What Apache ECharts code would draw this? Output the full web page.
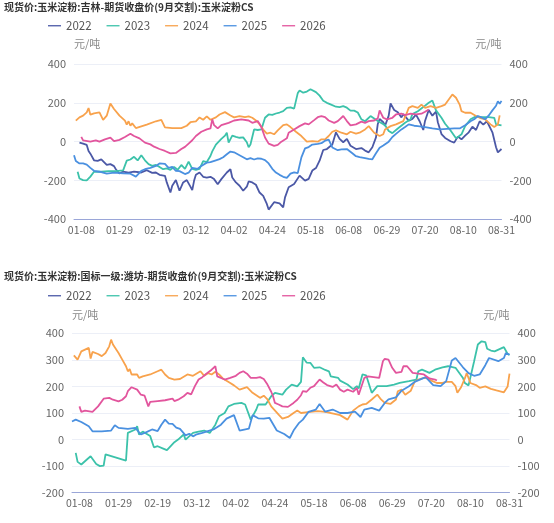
<!DOCTYPE html>
<html><head><meta charset="utf-8">
<script src="https://cdn.jsdelivr.net/npm/echarts@6/dist/echarts.min.js"></script>
<style>html,body{margin:0;padding:0;background:#fff}#c{width:554px;height:523px}</style>
</head><body><div id="c"></div>
<script>
// categories: union of trading dates (mm-dd)
const monthDays = [31,28,31,30,31,30,31,31];
const skipDates = ['01-01','01-02','01-03','04-04','05-01','05-02','05-03'];
const categories = [];
for (let m = 1; m <= 8; m++) {
  for (let d = 1; d <= monthDays[m-1]; d++) {
    const s = String(m).padStart(2,'0') + '-' + String(d).padStart(2,'0');
    if (skipDates.indexOf(s) < 0) categories.push(s);
  }
}
const seriesNames = ['2022','2023','2024','2025','2026'];
const colors = ['#4b58a6','#3cc2aa','#f8a24c','#4a90e0','#e2559d'];
const title1 = '现货价:玉米淀粉:吉林-期货收盘价(9月交割):玉米淀粉CS';
const title2 = '现货价:玉米淀粉:国标一级:潍坊-期货收盘价(9月交割):玉米淀粉CS';
const unit = '元/吨';

// ---------- chart 1: 吉林 ----------
const jl2022 = [['01-07',-5],['01-09',-10],['01-11',-17],['01-12',-48],['01-13',-62],['01-15',-96],['01-17',-99],['01-19',-91],['01-20',-99],['01-22',-120],['01-24',-116],['01-26',-126],['01-27',-142],['01-29',-164],['01-31',-154],['02-03',-159],['02-06',-154],['02-10',-159],['02-13',-147],['02-16',-161],['02-18',-159],['02-20',-171],['02-23',-176],['02-24',-210],['02-26',-262],['02-27',-227],['03-01',-198],['03-03',-253],['03-05',-210],['03-07',-198],['03-09',-232],['03-10',-250],['03-11',-202],['03-12',-171],['03-14',-159],['03-16',-181],['03-18',-185],['03-20',-181],['03-22',-193],['03-24',-219],['03-26',-193],['03-29',-159],['03-31',-142],['04-01',-185],['04-03',-210],['04-06',-227],['04-08',-253],['04-10',-232],['04-11',-205],['04-13',-210],['04-15',-222],['04-17',-262],['04-19',-279],['04-21',-321],['04-22',-350],['04-25',-312],['04-28',-318],['04-30',-338],['05-04',-287],['05-06',-235],['05-09',-218],['05-10',-209],['05-12',-175],['05-15',-201],['05-17',-192],['05-19',-149],['05-21',-136],['05-23',-98],['05-25',-43],['05-27',-38],['05-30',-15],['06-01',48],['06-03',14],['06-05',-3],['06-07',14],['06-09',-21],['06-12',-38],['06-15',-33],['06-17',-46],['06-19',-55],['06-21',-29],['06-23',22],['06-24',91],['06-25',117],['06-27',100],['06-28',82],['06-30',134],['07-01',197],['07-03',163],['07-05',151],['07-07',125],['07-08',142],['07-11',108],['07-13',117],['07-15',139],['07-17',105],['07-19',60],['07-20',108],['07-22',163],['07-24',134],['07-26',155],['07-27',100],['07-29',39],['07-31',19],['08-03',2],['08-05',-5],['08-07',26],['08-09',12],['08-11',31],['08-13',48],['08-15',77],['08-17',60],['08-19',105],['08-21',88],['08-23',105],['08-24',108],['08-26',48],['08-28',-29],['08-29',-55],['08-31',-38]];
const jl2023 = [['01-06',-155],['01-07',-190],['01-09',-198],['01-11',-200],['01-13',-180],['01-15',-155],['01-19',-155],['01-23',-152],['01-27',-152],['01-31',-148],['02-01',-140],['02-02',-98],['02-04',-92],['02-06',-78],['02-08',-97],['02-10',-70],['02-12',-96],['02-14',-116],['02-16',-125],['02-18',-120],['02-20',-130],['02-22',-142],['02-24',-138],['02-26',-145],['02-28',-130],['03-02',-145],['03-04',-120],['03-06',-140],['03-08',-103],['03-10',-140],['03-12',-145],['03-14',-140],['03-16',-100],['03-18',-105],['03-20',-74],['03-21',-50],['03-22',-40],['03-23',-15],['03-24',-10],['03-26',14],['03-28',31],['03-29',46],['03-30',-5],['04-01',31],['04-03',25],['04-06',20],['04-08',22],['04-10',-3],['04-11',-29],['04-12',-15],['04-14',63],['04-16',60],['04-18',63],['04-20',123],['04-22',140],['04-24',138],['04-26',145],['04-28',150],['04-30',157],['05-05',174],['05-07',177],['05-09',170],['05-11',250],['05-12',263],['05-14',252],['05-16',258],['05-18',270],['05-19',263],['05-21',255],['05-23',237],['05-25',211],['05-27',200],['05-29',192],['06-01',180],['06-03',178],['06-05',183],['06-07',175],['06-09',160],['06-11',160],['06-13',150],['06-15',115],['06-17',105],['06-20',132],['06-24',106],['06-28',85],['06-30',55],['07-02',44],['07-05',68],['07-09',97],['07-12',115],['07-13',142],['07-16',157],['07-19',178],['07-22',200],['07-24',212],['07-26',161],['07-29',123],['07-31',92],['08-03',58],['08-06',17],['08-07',7],['08-09',38],['08-11',80],['08-14',115],['08-17',130],['08-20',126],['08-24',126],['08-27',123],['08-28',89],['08-31',84]];
const jl2024 = [['01-05',108],['01-06',100],['01-07',125],['01-09',134],['01-11',151],['01-12',173],['01-13',139],['01-15',146],['01-16',139],['01-18',151],['01-20',112],['01-22',134],['01-24',197],['01-26',168],['01-29',134],['02-01',108],['02-02',88],['02-03',105],['02-04',82],['02-05',94],['02-07',70],['02-13',88],['02-18',105],['02-21',112],['02-23',74],['02-27',70],['03-04',70],['03-07',82],['03-09',100],['03-12',105],['03-14',125],['03-16',113],['03-18',130],['03-20',113],['03-23',125],['03-25',140],['03-28',152],['03-31',135],['04-02',125],['04-06',132],['04-09',126],['04-11',130],['04-13',123],['04-15',109],['04-17',90],['04-19',62],['04-21',41],['04-23',46],['04-25',38],['04-27',58],['04-30',85],['05-05',89],['05-07',75],['05-10',51],['05-13',29],['05-16',0],['05-17',-10],['05-19',3],['05-22',0],['05-24',12],['05-26',12],['05-28',29],['05-30',51],['06-01',58],['06-04',46],['06-07',38],['06-09',51],['06-12',41],['06-14',46],['06-17',63],['06-19',80],['06-22',46],['06-25',29],['06-27',38],['06-28',63],['07-01',80],['07-04',89],['07-08',106],['07-10',149],['07-11',174],['07-13',183],['07-16',174],['07-18',191],['07-20',174],['07-23',183],['07-26',174],['07-29',183],['07-31',191],['08-02',217],['08-04',243],['08-06',226],['08-08',191],['08-09',157],['08-11',149],['08-14',149],['08-17',132],['08-19',123],['08-22',115],['08-25',89],['08-27',75],['08-29',89],['08-30',135]];
const jl2025 = [['01-04',-70],['01-05',-100],['01-07',-112],['01-09',-112],['01-11',-118],['01-13',-135],['01-15',-150],['01-18',-155],['01-22',-165],['01-26',-160],['01-31',-163],['02-04',-165],['02-07',-180],['02-08',-176],['02-10',-150],['02-12',-142],['02-15',-135],['02-18',-125],['02-20',-112],['02-21',-108],['02-23',-115],['02-25',-135],['02-27',-130],['03-01',-150],['03-03',-152],['03-06',-167],['03-08',-160],['03-10',-135],['03-13',-140],['03-15',-125],['03-18',-108],['03-20',-105],['03-23',-96],['03-25',-90],['03-27',-80],['03-29',-65],['03-31',-51],['04-02',-55],['04-05',-65],['04-06',-74],['04-08',-80],['04-10',-91],['04-12',-85],['04-14',-92],['04-16',-86],['04-18',-88],['04-20',-95],['04-22',-112],['04-24',-140],['04-26',-159],['04-28',-171],['04-30',-181],['05-05',-187],['05-07',-165],['05-09',-158],['05-11',-162],['05-12',-155],['05-13',-81],['05-15',-35],['05-17',-28],['05-19',-15],['05-22',-12],['05-24',-8],['05-26',5],['05-28',10],['05-29',18],['05-30',-30],['06-02',-44],['06-04',-40],['06-07',-38],['06-10',-60],['06-12',-75],['06-14',-80],['06-17',-85],['06-19',-89],['06-21',-91],['06-23',-60],['06-25',-31],['06-27',-20],['06-30',0],['07-02',24],['07-04',40],['07-07',63],['07-09',75],['07-11',89],['07-14',82],['07-16',80],['07-20',75],['07-24',68],['07-28',63],['08-01',66],['08-05',68],['08-08',68],['08-11',85],['08-14',105],['08-16',115],['08-18',132],['08-20',125],['08-22',115],['08-24',135],['08-26',161],['08-28',185],['08-29',208],['08-30',195],['08-31',210]];
const jl2026 = [['01-08',25],['01-09',7],['01-13',0],['01-16',7],['01-18',0],['01-21',12],['01-24',21],['01-26',3],['01-29',9],['02-01',24],['02-04',41],['02-06',29],['02-09',17],['02-12',-5],['02-15',-14],['02-17',-26],['02-20',-38],['02-23',-48],['02-26',-60],['02-27',-51],['03-01',-58],['03-04',-38],['03-06',-27],['03-08',-10],['03-10',7],['03-12',29],['03-15',51],['03-18',63],['03-20',68],['03-21',115],['03-22',85],['03-24',68],['03-26',85],['03-30',97],['04-02',109],['04-07',115],['04-11',109],['04-13',97],['04-16',106],['04-18',75],['04-20',21],['04-22',-10],['04-23',-10],['04-25',-22],['04-27',-17],['04-29',0],['05-05',17],['05-06',46],['05-09',63],['05-12',80],['05-15',94],['05-17',89],['05-20',111],['05-22',126],['05-24',132],['05-26',126],['05-28',109],['05-31',97],['06-02',106],['06-05',132],['06-07',106],['06-09',84],['06-12',89],['06-15',103],['06-17',97],['06-19',106],['06-22',109],['06-24',120],['06-25',161],['06-27',123],['06-29',115],['07-02',123],['07-04',140],['07-07',144],['07-09',137],['07-12',144],['07-15',140],['07-18',144],['07-20',154],['07-22',166]];

// ---------- chart 2: 潍坊 ----------
const wf2022 = [];
const wf2023 = [['01-06',-50],['01-07',-84],['01-09',-94],['01-12',-75],['01-14',-63],['01-17',-92],['01-19',-100],['01-21',-98],['01-22',-56],['02-02',-79],['02-03',25],['02-07',38],['02-08',50],['02-09',19],['02-11',30],['02-13',22],['02-15',13],['02-17',-29],['02-19',-25],['02-22',-34],['02-24',-40],['02-25',-38],['02-28',-10],['03-02',0],['03-05',19],['03-06',0],['03-10',25],['03-13',30],['03-16',34],['03-19',25],['03-22',56],['03-24',88],['03-27',100],['03-29',125],['04-01',134],['04-06',138],['04-08',132],['04-11',75],['04-14',113],['04-15',132],['04-19',132],['04-22',163],['04-24',176],['04-28',169],['04-30',188],['05-06',207],['05-09',200],['05-11',217],['05-12',310],['05-14',290],['05-16',289],['05-18',270],['05-21',272],['05-24',262],['05-26',257],['05-27',238],['05-31',232],['06-01',222],['06-05',207],['06-08',190],['06-10',201],['06-11',192],['06-13',245],['06-15',242],['06-18',176],['06-21',201],['06-26',201],['06-30',207],['07-03',213],['07-08',220],['07-12',226],['07-13',257],['07-15',263],['07-19',251],['07-22',263],['07-26',272],['07-29',276],['08-02',270],['08-06',232],['08-07',213],['08-09',204],['08-12',295],['08-14',358],['08-16',370],['08-18',367],['08-19',342],['08-21',335],['08-23',332],['08-28',348],['08-30',322],['08-31',318]];
const wf2024 = [['01-05',317],['01-07',301],['01-09',332],['01-13',345],['01-14',305],['01-15',330],['01-18',322],['01-20',314],['01-22',326],['01-24',351],['01-25',376],['01-26',358],['01-29',326],['01-31',301],['02-02',276],['02-03',257],['02-04',265],['02-05',245],['02-06',252],['02-08',245],['02-09',232],['02-11',238],['02-15',245],['02-19',257],['02-21',263],['02-23',245],['02-25',232],['02-28',226],['03-03',228],['03-07',245],['03-10',240],['03-14',257],['03-16',240],['03-18',250],['03-20',245],['03-22',255],['03-24',245],['03-26',230],['03-30',213],['04-01',204],['04-05',188],['04-09',197],['04-12',176],['04-16',157],['04-18',165],['04-20',151],['04-22',125],['04-26',94],['04-28',79],['05-04',85],['05-07',100],['05-09',109],['05-11',100],['05-12',104],['05-16',104],['05-20',107],['05-24',104],['05-29',97],['06-01',92],['06-05',75],['06-08',109],['06-11',125],['06-13',132],['06-15',134],['06-18',151],['06-21',169],['06-23',151],['06-25',138],['06-28',134],['07-01',151],['07-02',182],['07-04',188],['07-06',169],['07-09',184],['07-11',217],['07-13',226],['07-16',232],['07-18',230],['07-20',222],['07-23',213],['07-26',213],['07-28',217],['07-31',217],['08-02',201],['08-03',176],['08-05',197],['08-07',230],['08-08',250],['08-10',213],['08-13',205],['08-15',195],['08-18',200],['08-21',191],['08-24',185],['08-28',178],['08-30',200],['08-31',248]];
const wf2025 = [['01-04',68],['01-06',75],['01-09',66],['01-13',50],['01-15',31],['01-16',25],['01-20',31],['01-25',34],['01-27',54],['01-29',44],['02-03',40],['02-07',44],['02-08',46],['02-10',19],['02-13',28],['02-16',38],['02-19',32],['02-21',56],['02-23',75],['02-25',60],['02-27',59],['03-01',45],['03-03',40],['03-06',16],['03-08',22],['03-10',12],['03-12',20],['03-15',25],['03-18',32],['03-21',38],['03-25',56],['03-28',79],['04-01',92],['04-05',34],['04-10',41],['04-12',92],['04-15',80],['04-18',79],['04-21',82],['04-25',34],['04-29',21],['05-05',6],['05-07',34],['05-10',63],['05-12',75],['05-15',104],['05-19',113],['05-21',134],['05-24',105],['05-28',113],['06-01',100],['06-05',100],['06-09',105],['06-12',85],['06-14',113],['06-18',119],['06-22',109],['06-25',138],['06-27',151],['07-01',159],['07-04',184],['07-08',201],['07-11',217],['07-17',235],['07-21',205],['07-25',201],['07-28',220],['07-31',298],['08-02',307],['08-06',272],['08-09',250],['08-12',240],['08-15',245],['08-18',280],['08-20',307],['08-25',295],['08-28',307],['08-29',326],['08-31',320]];
const wf2026 = [['01-08',125],['01-09',104],['01-11',109],['01-15',104],['01-18',125],['01-21',154],['01-24',157],['01-26',150],['01-29',144],['01-31',150],['02-02',163],['02-03',182],['02-05',197],['02-08',188],['02-10',169],['02-12',165],['02-14',125],['02-15',142],['02-19',145],['02-23',148],['02-27',154],['02-28',145],['03-02',150],['03-05',163],['03-07',176],['03-09',170],['03-11',201],['03-13',226],['03-15',235],['03-17',247],['03-20',263],['03-22',276],['03-23',238],['03-25',232],['03-27',226],['03-30',232],['04-02',240],['04-05',251],['04-07',257],['04-09',248],['04-11',232],['04-14',232],['04-16',235],['04-18',228],['04-20',207],['04-22',180],['04-23',163],['04-24',138],['04-26',132],['04-28',125],['05-04',123],['05-05',119],['05-07',138],['05-09',150],['05-11',167],['05-12',182],['05-14',180],['05-16',195],['05-18',201],['05-21',226],['05-23',215],['05-25',205],['05-28',198],['05-30',207],['06-01',188],['06-03',180],['06-05',188],['06-08',180],['06-10',194],['06-11',169],['06-14',232],['06-16',238],['06-19',235],['06-22',232],['06-24',295],['06-25',304],['06-27',301],['06-29',270],['07-01',251],['07-04',255],['07-05',276],['07-07',276],['07-10',251],['07-13',248],['07-16',245],['07-19',230],['07-22',226],['07-23',222]];

const jlData = [jl2022, jl2023, jl2024, jl2025, jl2026];
const wfData = [wf2022, wf2023, wf2024, wf2025, wf2026];
const yTicks1 = {min:-400, max:400, interval:200};
const yTicks2 = {min:-200, max:400, interval:100};

const FONT = '"Noto Sans CJK SC", "Noto Sans", sans-serif';
const labelColor = '#666';
function xAxis(gi) {
  return {
    gridIndex: gi, type: 'category', data: categories, boundaryGap: false,
    axisLine: {onZero: false, lineStyle: {color: '#9aa6d8', width: 1}},
    axisTick: {show: false},
    axisLabel: {color: labelColor, fontSize: 10.5, margin: 5, fontFamily: FONT,
      interval: function (idx) { return (idx - 4) % 21 === 0; }}
  };
}
function yAxis(gi, pos, t, nameGap) {
  return {
    gridIndex: gi, type: 'value', position: pos, min: t.min, max: t.max, interval: t.interval,
    name: unit, nameGap: nameGap,
    nameTextStyle: {color: '#888', fontSize: 11, fontFamily: FONT, align: pos === 'left' ? 'left' : 'right'},
    axisLine: {show: false}, axisTick: {show: false},
    axisLabel: {color: labelColor, fontSize: 11, margin: 8, fontFamily: FONT},
    splitLine: {show: pos === 'left', lineStyle: {color: '#eceff7', width: 1}}
  };
}
const series = [];
seriesNames.forEach(function (n, k) {
  series.push({name: n, type: 'line', xAxisIndex: 0, yAxisIndex: 0, data: jlData[k],
    symbol: 'none', lineStyle: {width: 1.8, color: colors[k]}, itemStyle: {color: colors[k]}, z: 2 + k});
  series.push({name: n, type: 'line', xAxisIndex: 1, yAxisIndex: 2, data: wfData[k],
    symbol: 'none', lineStyle: {width: 1.8, color: colors[k]}, itemStyle: {color: colors[k]}, z: 2 + k});
});
function legend(top) {
  return {top: top, left: 43, data: seriesNames, icon: 'path://M0,0 L10,0 L10,1 L0,1 Z',
    itemWidth: 13, itemHeight: 2.5, itemGap: 15,
    textStyle: {color: '#555', fontSize: 11.5, fontFamily: FONT}};
}
const chart = echarts.init(document.getElementById('c'), null, {renderer: 'canvas'});
chart.setOption({
  animation: false,
  title: [
    {text: title1, left: 4, top: 2, padding: 0, textStyle: {fontSize: 10, fontWeight: 'bold', color: '#333', fontFamily: FONT}},
    {text: title2, left: 4, top: 271, padding: 0, textStyle: {fontSize: 10, fontWeight: 'bold', color: '#333', fontFamily: FONT}}
  ],
  legend: [legend(15), legend(285)],
  grid: [
    {left: 74, right: 52.5, top: 64, height: 155.3},
    {left: 72, right: 44.5, top: 333.3, height: 159.4}
  ],
  xAxis: [xAxis(0), xAxis(1)],
  yAxis: [yAxis(0, 'left', yTicks1, 15), yAxis(0, 'right', yTicks1, 15),
          yAxis(1, 'left', yTicks2, 13), yAxis(1, 'right', yTicks2, 13)],
  series: series
});
</script></body></html>
